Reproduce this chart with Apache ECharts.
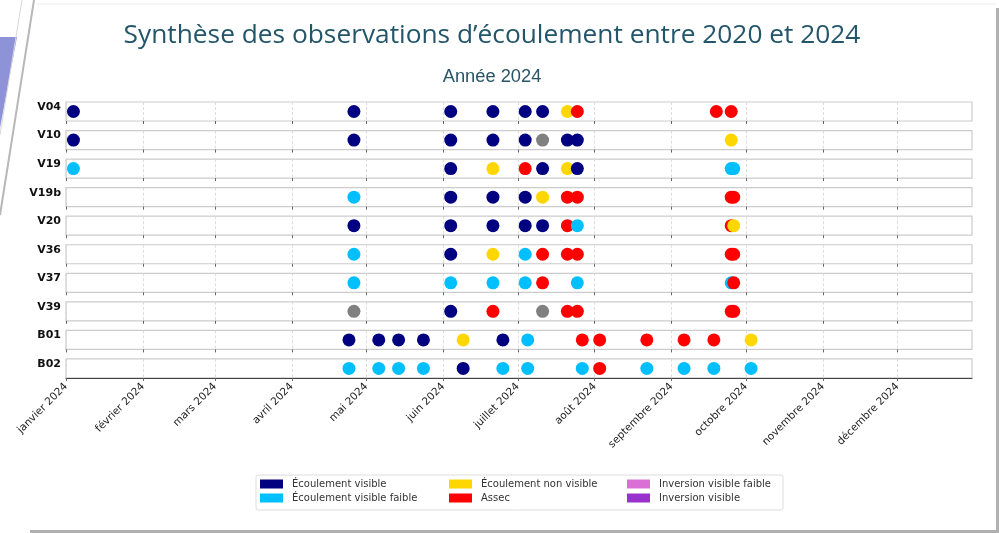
<!DOCTYPE html>
<html>
<head>
<meta charset="utf-8">
<script src="https://cdn.jsdelivr.net/npm/echarts@6/dist/echarts.min.js"></script>
<style>
  html, body { margin: 0; padding: 0; background: #fff; }
  #chart { width: 999px; height: 533px; }
</style>
</head>
<body>
<div id="chart"></div>
<script>
// stations, de haut en bas
const stations = ['V04', 'V10', 'V19', 'V19b', 'V20', 'V36', 'V37', 'V39', 'B01', 'B02'];

// codes d'état et libellés
const etatCodes = ['EV', 'EVF', 'ENV', 'AS', 'IVF', 'IV', 'ND'];
const etatNames = ['Écoulement visible', 'Écoulement visible faible', 'Écoulement non visible', 'Assec',
  'Inversion visible faible', 'Inversion visible', 'Non renseigné'];
const etatColors = ['#000080', '#00bfff', '#ffd700', '#ff0000', '#da70d6', '#9932cc', '#808080'];

const monthLabels = ['janvier 2024', 'février 2024', 'mars 2024', 'avril 2024', 'mai 2024', 'juin 2024',
  'juillet 2024', 'août 2024', 'septembre 2024', 'octobre 2024', 'novembre 2024', 'décembre 2024'];

// observations par station
const datesV04 = ['2024-01-04', '2024-04-26', '2024-06-04', '2024-06-21', '2024-07-04', '2024-07-11', '2024-07-21', '2024-07-25', '2024-09-19', '2024-09-25'];
const etatsV04 = ['EV', 'EV', 'EV', 'EV', 'EV', 'EV', 'ENV', 'AS', 'AS', 'AS'];
const datesV10 = ['2024-01-04', '2024-04-26', '2024-06-04', '2024-06-21', '2024-07-04', '2024-07-11', '2024-07-21', '2024-07-25', '2024-09-25'];
const etatsV10 = ['EV', 'EV', 'EV', 'EV', 'EV', 'ND', 'EV', 'EV', 'ENV'];
const datesV19 = ['2024-01-04', '2024-06-04', '2024-06-21', '2024-07-04', '2024-07-11', '2024-07-21', '2024-07-25', '2024-09-25', '2024-09-26'];
const etatsV19 = ['EVF', 'EV', 'ENV', 'AS', 'EV', 'ENV', 'EV', 'EVF', 'EVF'];
const datesV19b = ['2024-04-26', '2024-06-04', '2024-06-21', '2024-07-04', '2024-07-11', '2024-07-21', '2024-07-25', '2024-09-25', '2024-09-26'];
const etatsV19b = ['EVF', 'EV', 'EV', 'EV', 'ENV', 'AS', 'AS', 'AS', 'AS'];
const datesV20 = ['2024-04-26', '2024-06-04', '2024-06-21', '2024-07-04', '2024-07-11', '2024-07-21', '2024-07-25', '2024-09-25', '2024-09-26'];
const etatsV20 = ['EV', 'EV', 'EV', 'EV', 'EV', 'AS', 'EVF', 'AS', 'ENV'];
const datesV36 = ['2024-04-26', '2024-06-04', '2024-06-21', '2024-07-04', '2024-07-11', '2024-07-21', '2024-07-25', '2024-09-25', '2024-09-26'];
const etatsV36 = ['EVF', 'EV', 'ENV', 'EVF', 'AS', 'AS', 'AS', 'AS', 'AS'];
const datesV37 = ['2024-04-26', '2024-06-04', '2024-06-21', '2024-07-04', '2024-07-11', '2024-07-25', '2024-09-25', '2024-09-26'];
const etatsV37 = ['EVF', 'EVF', 'EVF', 'EVF', 'AS', 'EVF', 'EVF', 'AS'];
const datesV39 = ['2024-04-26', '2024-06-04', '2024-06-21', '2024-07-11', '2024-07-21', '2024-07-25', '2024-09-25', '2024-09-26'];
const etatsV39 = ['ND', 'EV', 'AS', 'ND', 'AS', 'AS', 'AS', 'AS'];
const datesB01 = ['2024-04-24', '2024-05-06', '2024-05-14', '2024-05-24', '2024-06-09', '2024-06-25', '2024-07-05', '2024-07-27', '2024-08-03', '2024-08-22', '2024-09-06', '2024-09-18', '2024-10-03'];
const etatsB01 = ['EV', 'EV', 'EV', 'EV', 'ENV', 'EV', 'EVF', 'AS', 'AS', 'AS', 'AS', 'AS', 'ENV'];
const datesB02 = ['2024-04-24', '2024-05-06', '2024-05-14', '2024-05-24', '2024-06-09', '2024-06-25', '2024-07-05', '2024-07-27', '2024-08-03', '2024-08-22', '2024-09-06', '2024-09-18', '2024-10-03'];
const etatsB02 = ['EVF', 'EVF', 'EVF', 'EVF', 'EV', 'EVF', 'EVF', 'EVF', 'AS', 'EVF', 'EVF', 'EVF', 'EVF'];

const obs = [
  [datesV04, etatsV04], [datesV10, etatsV10], [datesV19, etatsV19], [datesV19b, etatsV19b],
  [datesV20, etatsV20], [datesV36, etatsV36], [datesV37, etatsV37], [datesV39, etatsV39],
  [datesB01, etatsB01], [datesB02, etatsB02]
];

const t = s => echarts.number.parseDate(s).getTime();
const monthStarts = monthLabels.map((m, k) => t('2024-' + String(k + 1).padStart(2, '0') + '-01'));

const chart = echarts.init(document.getElementById('chart'));

var grids = [], xAxes = [], yAxes = [], series = [];
var last = stations.length - 1;
stations.forEach((st, i) => {
  grids.push({
    left: 66, right: 27, top: 102 + i * 28.55, height: 19,
    show: true, borderColor: '#cccccc', borderWidth: 1.2, backgroundColor: '#fff'
  });
  xAxes.push({
    type: 'value', gridIndex: i,
    min: t('2024-01-01'), max: t('2024-12-31'),
    axisLine: { show: i === last, lineStyle: { color: '#444', width: 1.2 } },
    axisTick: { show: true, length: 3, customValues: monthStarts, lineStyle: { color: '#666' } },
    splitLine: { show: true, lineStyle: { color: '#d4d4d4', type: [3, 2], width: 0.8 } },
    axisLabel: {
      show: i === last, customValues: monthStarts, rotate: 45, margin: 7,
      fontFamily: 'DejaVu Sans', fontSize: 10.5, color: '#222',
      formatter: v => monthLabels[new Date(v).getMonth()]
    }
  });
  yAxes.push({
    type: 'category', gridIndex: i, data: [st],
    axisLine: { show: false }, axisTick: { show: false }, splitLine: { show: false },
    axisLabel: {
      margin: 5, fontFamily: 'DejaVu Sans', fontWeight: 'bold', fontSize: 11,
      color: '#111', verticalAlign: 'bottom', padding: [0, 0, -1, 0]
    }
  });
  var dates = obs[i][0], etats = obs[i][1];
  series.push({
    type: 'scatter', name: st, xAxisIndex: i, yAxisIndex: i,
    symbolSize: 13, silent: true,
    data: dates.map((d, k) => ({
      value: [t(d), 0],
      itemStyle: { color: etatColors[etatCodes.indexOf(etats[k])], opacity: 1 }
    }))
  });
});

// séries vides pour la légende
etatNames.slice(0, 6).forEach((n, k) => {
  series.push({
    type: 'scatter', name: n, data: [], xAxisIndex: 0, yAxisIndex: 0,
    itemStyle: { color: etatColors[k], opacity: 1 }
  });
});

function legendCol(names, left) {
  return {
    orient: 'vertical', left: left, top: 479, itemGap: 4, padding: 0,
    itemWidth: 23, itemHeight: 9, icon: 'rect', selectedMode: false,
    itemStyle: { opacity: 1 },
    textStyle: { fontFamily: 'DejaVu Sans', fontSize: 10, color: '#333', padding: [0, 0, 0, 4] },
    data: names
  };
}

var option = {
  backgroundColor: '#fff',
  animation: false,
  title: [
    {
      text: 'Synthèse des observations d’écoulement entre 2020 et 2024',
      left: 487, top: 18, textAlign: 'center',
      textStyle: { fontFamily: 'Open Sans', fontWeight: 'normal', fontSize: 26.3, color: '#24566b' }
    },
    {
      text: 'Année 2024',
      left: 487, top: 63, textAlign: 'center',
      textStyle: { fontFamily: 'Liberation Sans', fontWeight: 'normal', fontSize: 18.3, color: '#2a5468' }
    }
  ],
  graphic: [
    { type: 'polygon', shape: { points: [[0, 37], [17, 37], [0, 128]] }, style: { fill: '#8e92d6' } },
    { type: 'line', shape: { x1: 34, y1: 0, x2: 0, y2: 215 }, style: { stroke: '#b8b8b8', lineWidth: 2 } },
    { type: 'line', shape: { x1: 22, y1: 0, x2: 0, y2: 135 }, style: { stroke: '#d8d8d8', lineWidth: 1 } },
    { type: 'rect', shape: { x: 996, y: 8, width: 3, height: 525 }, style: { fill: '#b0b0b0' } },
    { type: 'rect', shape: { x: 30, y: 530, width: 969, height: 3 }, style: { fill: '#b0b0b0' } },
    { type: 'line', shape: { x1: 36, y1: 4, x2: 996, y2: 4 }, style: { stroke: '#eeeeee', lineWidth: 1 } },
    { type: 'rect', shape: { x: 256, y: 475, width: 527, height: 35, r: 2 }, style: { fill: 'none', stroke: '#dddddd', lineWidth: 1 } }
  ],
  legend: [
    legendCol([etatNames[0], etatNames[1]], 260),
    legendCol([etatNames[2], etatNames[3]], 449),
    legendCol([etatNames[4], etatNames[5]], 627)
  ],
  grid: grids,
  xAxis: xAxes,
  yAxis: yAxes,
  series: series
};
chart.setOption(option);
</script>
</body>
</html>
